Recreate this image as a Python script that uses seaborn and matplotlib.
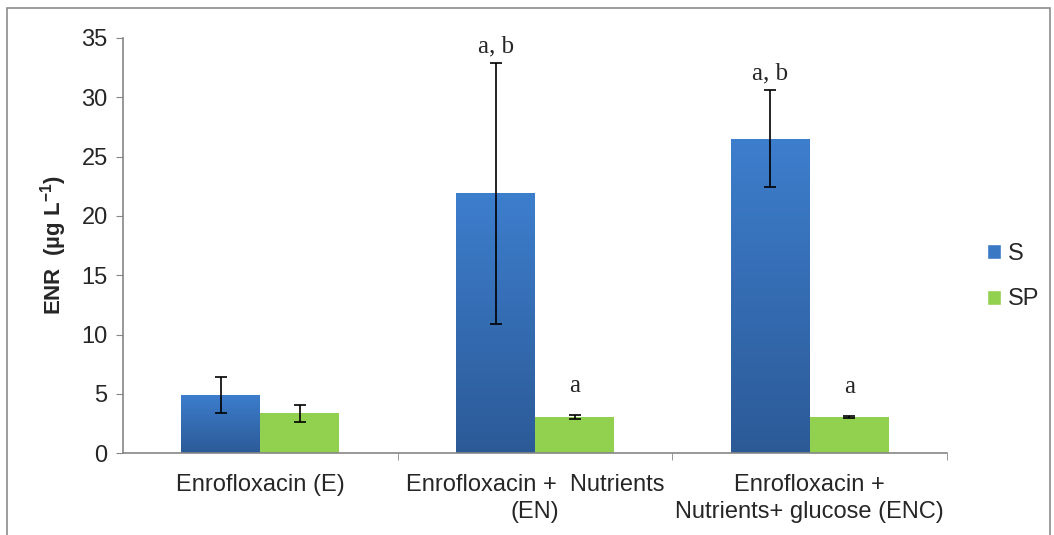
import matplotlib
matplotlib.use("Agg")
import matplotlib.pyplot as plt
import matplotlib.patches as mpatches
import numpy as np
import pandas as pd
import seaborn as sns

# data
treatments = ["Enrofloxacin (E)",
              "Enrofloxacin +  Nutrients\n(EN)",
              "Enrofloxacin +\nNutrients+ glucose (ENC)"]
s_mean = [4.9, 21.9, 26.5]
s_err = [1.5, 11.0, 4.1]
sp_mean = [3.35, 3.06, 3.06]
sp_err = [0.7, 0.15, 0.1]
s_letters = ["", "a, b", "a, b"]
sp_letters = ["", "a", "a"]

df = pd.DataFrame({
    "treatment": treatments * 2,
    "series": ["S"] * 3 + ["SP"] * 3,
    "value": s_mean + sp_mean,
    "err": s_err + sp_err,
    "letter": s_letters + sp_letters,
})

sns.set_style("white")
plt.rcParams["font.family"] = ["Liberation Sans", "DejaVu Sans"]
plt.rcParams["mathtext.fontset"] = "custom"
plt.rcParams["mathtext.rm"] = "Liberation Sans"
plt.rcParams["mathtext.bf"] = "Liberation Sans:bold"

fig = plt.figure(figsize=(10.54, 5.35), dpi=100)
ax = fig.add_axes([0.1167, 0.153, 0.782, 0.776])

palette = {"S": "#3A78C4", "SP": "#92D050"}
sns.barplot(data=df, x="treatment", y="value", hue="series", palette=palette,
            width=0.575, gap=0, errorbar=None, saturation=1, ax=ax,
            edgecolor="none", linewidth=0)

# blue bars get a vertical gradient like the original
grad = np.linspace(0, 1, 256).reshape(-1, 1)
cmap = matplotlib.colors.LinearSegmentedColormap.from_list(
    "blue", ["#2C5A97", "#3D7ECD"])
bars_s = ax.containers[0]
bars_sp = ax.containers[1]
for p in bars_s:
    x0, w, h = p.get_x(), p.get_width(), p.get_height()
    im = ax.imshow(grad, extent=[x0, x0 + w, 0, h], origin="lower",
                   cmap=cmap, aspect="auto", zorder=p.get_zorder())
    im.set_clip_path(p)
ax.set_xlim(-0.5, 2.5)
ax.set_ylim(0, 35)
ax.set_yticks(np.arange(0, 36, 5))

# error bars and significance letters
for bars, sub, off in ((bars_s, df[df.series == "S"], 0.5),
                       (bars_sp, df[df.series == "SP"], 1.5)):
    for p, (_, row) in zip(bars, sub.iterrows()):
        cx = p.get_x() + p.get_width() / 2
        ax.errorbar(cx, row["value"], yerr=row["err"], fmt="none",
                    ecolor="black", elinewidth=1.2, capsize=4.3, capthick=1.2,
                    zorder=5)
        if row["letter"]:
            ax.text(cx, row["value"] + row["err"] + off, row["letter"],
                    ha="center", va="bottom", fontsize=18,
                    family=["Liberation Serif"])

sns.despine(ax=ax)
for side in ("left", "bottom"):
    ax.spines[side].set_color("#868686")
    ax.spines[side].set_linewidth(1.2)

ax.tick_params(axis="y", direction="out", length=5, color="#868686",
               labelsize=17, pad=6, left=True)
ax.tick_params(axis="x", which="major", length=0, labelsize=17, pad=15)
for lab in ax.get_xticklabels():
    lab.set_linespacing(1.3)
ax.set_xticks([0.5, 1.5, 2.5], minor=True)
ax.tick_params(axis="x", which="minor", direction="out", length=5,
               color="#868686", bottom=True)
ax.set_xlabel("")
ax.set_ylabel(r"ENR  (µg L$^{\mathbf{-1}}$)", fontsize=16, fontweight="bold",
              labelpad=9)

handles = [mpatches.Patch(facecolor=palette["S"], label="S"),
           mpatches.Patch(facecolor=palette["SP"], label="SP")]
ax.legend(handles=handles, loc="center left", bbox_to_anchor=(0.916, 0.483),
          bbox_transform=fig.transFigure, frameon=False, fontsize=17,
          handlelength=0.6, handleheight=0.6, handletextpad=0.3,
          labelspacing=1.0)

# chart area border
fig.patches.append(mpatches.Rectangle((7 / 1054, -0.02), 1043 / 1054, 1 - 8 / 535 + 0.02,
                                      transform=fig.transFigure, fill=False,
                                      edgecolor="#8C8C8C", linewidth=1.2))

fig.savefig("out.png", dpi=100)
